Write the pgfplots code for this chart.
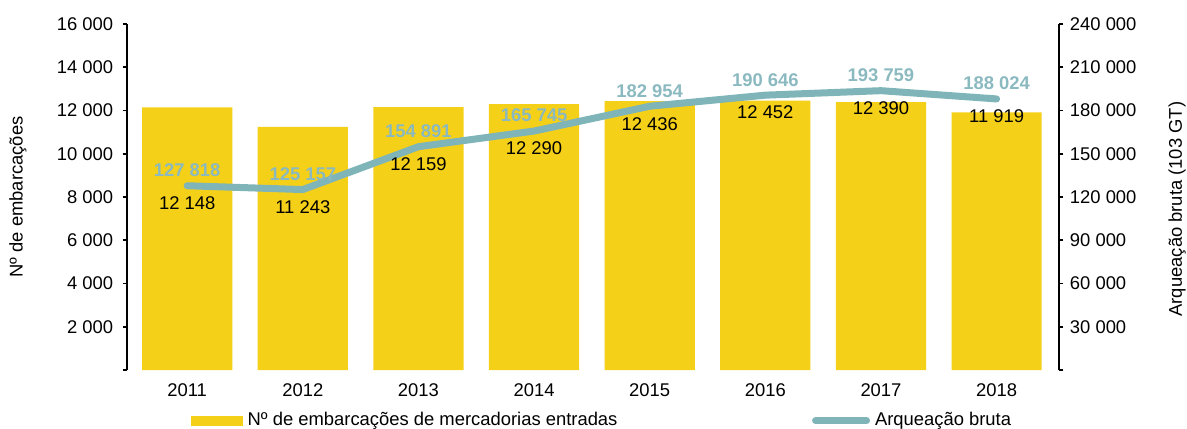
\documentclass[border=0pt]{standalone}
\usepackage{pgfplots}
\pgfplotsset{compat=1.18}
\usepackage{pgfplotstable}
\usepackage{fontspec}
\setmainfont{Liberation Sans}
\definecolor{baryel}{HTML}{F5D018}
\definecolor{lineteal}{HTML}{7FB5B8}
\definecolor{labteal}{HTML}{8BB9C0}
\newcommand{\fs}{\fontsize{9.2}{11}\selectfont}
\pgfplotstableread{
x year n gt
0 2011 12148 127818
1 2012 11243 125157
2 2013 12159 154891
3 2014 12290 165745
4 2015 12436 182954
5 2016 12452 190646
6 2017 12390 193759
7 2018 11919 188024
}\data
\begin{document}
\fs
\begin{tikzpicture}
\pgfplotsset{
  every axis/.append style={
    scale only axis, width=466pt, height=173pt,
    xmin=-0.52, xmax=7.54,
    font=\fs,
    scaled y ticks=false,
    /pgf/number format/fixed,
    /pgf/number format/assume math mode=true,
    /pgf/number format/1000 sep={\ },
    tick align=outside, major tick length=2.2pt,
    every tick/.style={black, line width=0.9pt},
    y axis line style={draw=black, line width=1pt},
    yticklabel style={xshift=-1.5pt},
    extra y ticks={0}, extra y tick labels={},
  },
  leg/.style={legend style={draw=none, fill=none, font=\fs,
    inner sep=0pt, outer sep=0pt, nodes={inner sep=0pt},
    /tikz/every odd column/.append style={column sep=2.5pt}}},
}
\begin{axis}[
  axis y line*=left, axis x line*=bottom,
  x axis line style={draw=none},
  xtick=data, xticklabels={2011,2012,2013,2014,2015,2016,2017,2018},
  xtick style={draw=none},
  xticklabel style={yshift=-1.5pt},
  ymin=0, ymax=16000, ytick={2000,4000,...,16000},
  ylabel={Nº de embarcações},
  ylabel style={at={(axis description cs:-0.117,0.5)}, anchor=center},
  leg, legend style={at={(0.0683,-0.1465)}, anchor=west},
]
\addplot[ybar, bar width=0.78, fill=baryel, draw=none,
  legend image code/.code={\fill[baryel] (0pt,-2.5pt) rectangle (26pt,2.5pt);}]
  table[x=x, y=n]{\data};
\addlegendentry{Nº de embarcações de mercadorias entradas}
\coordinate (BL) at (axis description cs:-0.1363,-0.1705);
\coordinate (TR) at (axis description cs:1.1373,1.0694);
\end{axis}
\begin{axis}[
  axis y line*=right, axis x line=none,
  ymin=0, ymax=240000, ytick={30000,60000,...,240000},
  yticklabel style={xshift=1.5pt},
  ylabel={Arqueação bruta (103 GT)},
  ylabel style={at={(axis description cs:1.1266,0.465)}, anchor=center},
  leg, legend style={at={(0.735,-0.1465)}, anchor=west},
]
\addplot[lineteal, line width=3.5pt, line cap=round,
  legend image code/.code={\draw[lineteal, line width=3.5pt, line cap=round] (1.5pt,0pt) -- (27pt,0pt);}]
  table[x=x, y=gt]{\data};
\addlegendentry{Arqueação bruta}
\addplot[draw=none, forget plot, point meta=explicit,
  nodes near coords={\pgfmathprintnumber[fixed,assume math mode=true,1000 sep={\ }]{\pgfplotspointmeta}},
  nodes near coords style={anchor=south, yshift=1.2pt, text=labteal, font=\fs\bfseries}]
  table[x=x, y=gt, meta=gt]{\data};
\addplot[draw=none, forget plot, point meta=explicit,
  nodes near coords={\pgfmathprintnumber[fixed,assume math mode=true,1000 sep={\ }]{\pgfplotspointmeta}},
  nodes near coords style={anchor=north, yshift=-2.2pt, text=black, font=\fs}]
  table[x=x, y=gt, meta=n]{\data};
\end{axis}
\pgfresetboundingbox
\path (BL) rectangle (TR);
\end{tikzpicture}
\end{document}
